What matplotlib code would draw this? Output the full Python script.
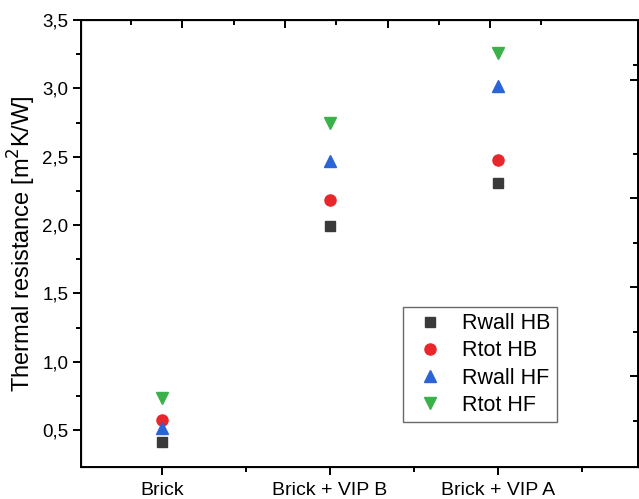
import matplotlib
matplotlib.use("Agg")
import matplotlib.pyplot as plt
from matplotlib.ticker import FixedLocator, FuncFormatter

categories = ["Brick", "Brick + VIP B", "Brick + VIP A"]
rwall_hb = [0.41, 1.99, 2.31]
rtot_hb = [0.575, 2.18, 2.475]
rwall_hf = [0.515, 2.47, 3.02]
rtot_hf = [0.735, 2.745, 3.255]

plt.rcParams['font.family'] = ['Liberation Sans', 'DejaVu Sans']

fig = plt.figure(figsize=(6.39, 4.99), dpi=100)
ax = fig.add_axes([81/639, 32/499, 557/639, 447/499])

x = list(range(len(categories)))
ms = 8
ax.plot(x, rwall_hb, ls='none', marker='s', ms=ms*0.85, color='#3a3a3a', label='Rwall HB')
ax.plot(x, rtot_hb, ls='none', marker='o', ms=ms, color='#e8262b', label='Rtot HB')
ax.plot(x, rwall_hf, ls='none', marker='^', ms=ms, color='#2b63d8', label='Rwall HF')
ax.plot(x, rtot_hf, ls='none', marker='v', ms=ms, color='#3bb14a', label='Rtot HF')

ax.set_xlim(-0.48, 2.83)
ax.set_ylim(0.23, 3.5)
ax.set_xticks(x)
ax.set_xticklabels(categories, fontsize=14)
ax.set_xticks([0.5, 1.5, 2.5], minor=True)
ax.set_yticks([0.5, 1.0, 1.5, 2.0, 2.5, 3.0, 3.5])
ax.set_yticks([0.75, 1.25, 1.75, 2.25, 2.75, 3.25], minor=True)
ax.yaxis.set_major_formatter(FuncFormatter(lambda v, p: f"{v:.1f}".replace('.', ',')))
ax.tick_params(axis='y', labelsize=13.5, pad=3)
ax.tick_params(axis='x', pad=5)
ax.tick_params(which='major', direction='out', length=6, width=1.4)
ax.tick_params(which='minor', direction='out', length=3.5, width=1.4)
ax.set_ylabel("Thermal resistance [m$^2$K/W]", fontsize=17, labelpad=3)

for s in ax.spines.values():
    s.set_linewidth(1.4)

# right and top independent tick axes (inward, no labels)
axr = ax.twinx()
axr.set_ylim(0, 1)
maj_r = [(467 - y) / 447 for y in [80, 198, 287, 376]]
min_r = [(467 - y) / 447 for y in [65, 154, 243, 332, 421]]
axr.yaxis.set_major_locator(FixedLocator(maj_r))
axr.yaxis.set_minor_locator(FixedLocator(min_r))
axr.tick_params(which='major', direction='in', length=6, width=1.4, labelright=False)
axr.tick_params(which='minor', direction='in', length=3.5, width=1.4)

axt = ax.twiny()
axt.set_xlim(0, 1)
maj_t = [(xx - 81) / 557 for xx in [182, 285, 388, 490]]
min_t = [(xx - 81) / 557 for xx in [131, 234, 336, 439, 541]]
axt.xaxis.set_major_locator(FixedLocator(maj_t))
axt.xaxis.set_minor_locator(FixedLocator(min_t))
axt.tick_params(which='major', direction='in', length=6, width=1.4, labeltop=False)
axt.tick_params(which='minor', direction='in', length=3.5, width=1.4)

leg = ax.legend(loc='upper left', bbox_to_anchor=((403-81)/557, (467-307)/447),
                borderaxespad=0, fontsize=15.5, frameon=True, fancybox=False, edgecolor='#444444',
                handletextpad=0.55, borderpad=0.3, labelspacing=0.28, handlelength=1.9)
leg.get_frame().set_linewidth(1.0)

fig.savefig("out.png", dpi=100)
